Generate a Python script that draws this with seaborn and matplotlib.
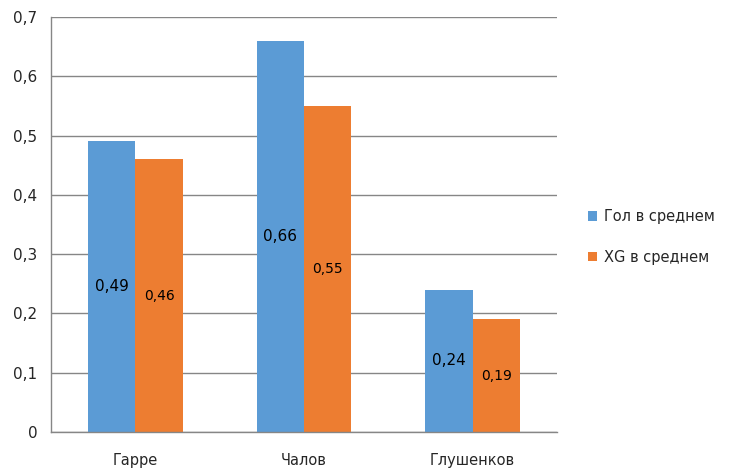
import numpy as np
import pandas as pd
import matplotlib
matplotlib.use("Agg")
import matplotlib.pyplot as plt
import seaborn as sns
from matplotlib.ticker import FixedLocator

# data
players = ["Гарре", "Чалов", "Глушенков"]
goals_avg = [0.49, 0.66, 0.24]
xg_avg = [0.46, 0.55, 0.19]
series = ["Гол в среднем", "XG в среднем"]
y_ticks = [0, 0.1, 0.2, 0.3, 0.4, 0.5, 0.6, 0.7]

df = pd.DataFrame({
    "player": players * 2,
    "value": goals_avg + xg_avg,
    "series": [series[0]] * 3 + [series[1]] * 3,
})

sns.set_style("white")
plt.rcParams['font.family'] = ['DejaVu Sans']

fig = plt.figure(figsize=(7.3, 4.72), dpi=100)
ax = fig.add_axes([0.070, 0.085, 0.693, 0.879])

sns.barplot(data=df, x="player", y="value", hue="series",
            palette=["#5B9BD5", "#ED7D31"], width=0.56,
            saturation=1, linewidth=0, edgecolor="none", ax=ax, legend=True)

ax.set_ylim(0, 0.7)
ax.set_xlim(-0.5, 2.5)
ax.set_yticks(y_ticks)
ax.set_yticklabels([("%g" % t).replace(".", ",") for t in y_ticks], fontsize=11)
ax.yaxis.grid(True, color="#868686", linewidth=1)
ax.set_axisbelow(True)
ax.set_xlabel("")
ax.set_ylabel("")

for s in ["top", "right"]:
    ax.spines[s].set_visible(False)
for s in ["left", "bottom"]:
    ax.spines[s].set_color("#868686")
    ax.spines[s].set_linewidth(1)

ax.tick_params(axis="y", length=5, color="#868686", direction="out", pad=5)
ax.tick_params(axis="x", which="major", length=0, pad=15, labelsize=10.5)
ax.xaxis.set_minor_locator(FixedLocator([0.5, 1.5]))
ax.tick_params(axis="x", which="minor", length=6, color="#868686", direction="out")

for i, cont in enumerate(ax.containers):
    labels = [("%.2f" % v).replace(".", ",") for v in cont.datavalues]
    ax.bar_label(cont, labels=labels, label_type="center",
                 fontsize=11 if i == 0 else 10, color="#000000")

handles, lbls = ax.get_legend_handles_labels()
ax.legend(handles, lbls, loc="center left", bbox_to_anchor=(1.035, 0.47),
          frameon=False, fontsize=10.5, handlelength=0.6, handleheight=0.6,
          labelspacing=1.75, handletextpad=0.5)

fig.savefig("out.png", dpi=100)
